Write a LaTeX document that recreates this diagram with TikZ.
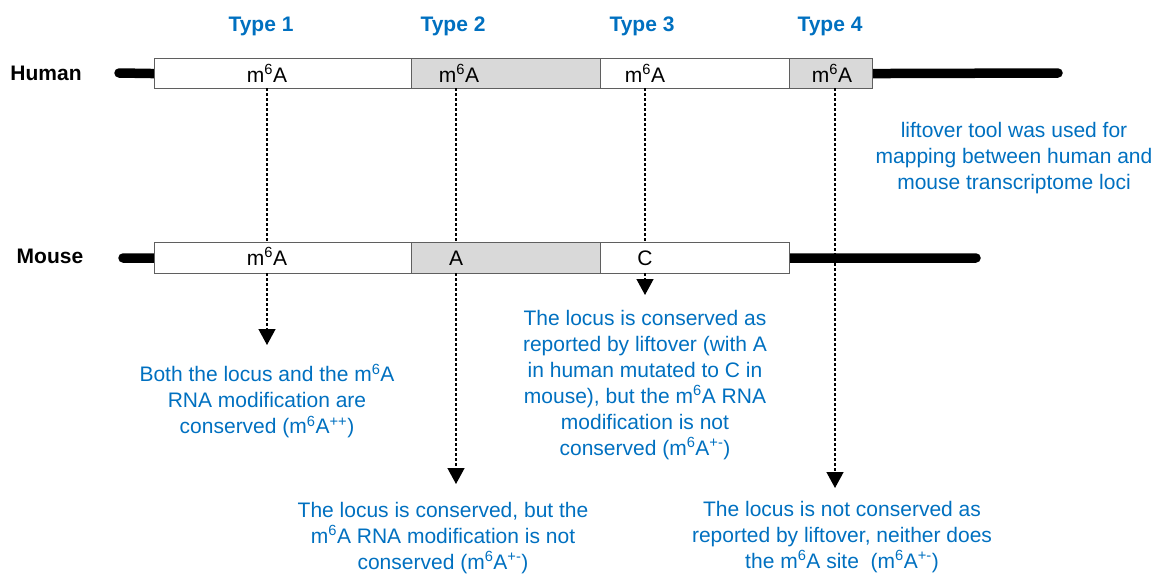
\documentclass[tikz,border=0pt]{standalone}
\usepackage{fontspec}
\setmainfont{Liberation Sans}
\usetikzlibrary{arrows.meta,backgrounds}
\definecolor{myblue}{RGB}{0,112,192}
\definecolor{boxgrey}{RGB}{217,217,217}
\definecolor{edgegrey}{RGB}{95,95,95}
\begin{document}
\begin{tikzpicture}[x=1pt,y=-1pt,
  seg/.style={draw=edgegrey, line width=1.1pt, minimum height=30pt, inner sep=0pt, anchor=north west, fill=white},
  greyseg/.style={seg, fill=boxgrey},
  chrom/.style={line width=9.5pt, line cap=round},
  guide/.style={line width=1.4pt, dash pattern=on 3pt off 2pt},
  guidearrow/.style={guide, -{Triangle[width=17pt,length=16pt]}},
  typelab/.style={font=\fontsize{21}{26}\selectfont\bfseries, text=myblue, anchor=base, inner sep=0pt},
  species/.style={font=\fontsize{21}{26}\selectfont\bfseries, anchor=base, inner sep=0pt},
  site/.style={font=\fontsize{21}{26}\selectfont, anchor=base, inner sep=0pt},
  note/.style={font=\fontsize{21}{26}\selectfont, text=myblue, align=center, inner sep=0pt},
]
\useasboundingbox (0,0) rectangle (1155,573);

% free ends of chromosome lines
\coordinate (hL) at (119,73);
\coordinate (hR) at (1058,73);
\coordinate (mL) at (123,258);
\coordinate (mR) at (976,258);

% human segments
\node[seg, minimum width=257pt] (h1) at (154,58) {};
\node[greyseg, minimum width=189pt] (h2) at (411,58) {};
\node[seg, minimum width=189pt] (h3) at (600,58) {};
\node[greyseg, minimum width=83pt] (h4) at (789,58) {};
% mouse segments
\node[seg, minimum width=257pt, minimum height=31pt] (m1) at (154,242) {};
\node[greyseg, minimum width=189pt, minimum height=31pt] (m2) at (411,242) {};
\node[seg, minimum width=189pt, minimum height=31pt] (m3) at (600,242) {};

% chromosome lines behind the boxes
\begin{pgfonlayer}{background}
\draw[chrom] (hL) -- (h1.west);
\draw[chrom] (h4.east) -- (hR);
\draw[chrom] (mL) -- (m1.west);
\draw[chrom] (m3.east) -- (mR);
\end{pgfonlayer}

% type labels
\node[typelab] (t1) at (261,31) {Type 1};
\node[typelab] (t2) at (453,31) {Type 2};
\node[typelab] (t3) at (642,31) {Type 3};
\node[typelab] (t4) at (830,31) {Type 4};

% species labels
\node[species] (human) at (46,80) {Human};
\node[species] (mouse) at (50,263) {Mouse};

% site labels
\node[site] (hs1) at (267,82) {m\textsuperscript{6}A};
\node[site] (hs2) at (459,82) {m\textsuperscript{6}A};
\node[site] (hs3) at (645,82) {m\textsuperscript{6}A};
\node[site] (hs4) at (832,82) {m\textsuperscript{6}A};
\node[site] (ms1) at (267,265) {m\textsuperscript{6}A};
\node[site] (ms2) at (456,265) {A};
\node[site] (ms3) at (645,265) {C};

% guide coordinates
\coordinate (g1a) at (267,88);  \coordinate (g1b) at (267,242);
\coordinate (g1c) at (267,273); \coordinate (g1d) at (267,345);
\coordinate (g2a) at (456,88);  \coordinate (g2b) at (456,242);
\coordinate (g2c) at (456,273); \coordinate (g2d) at (456,484);
\coordinate (g3a) at (645,88);  \coordinate (g3b) at (645,242);
\coordinate (g3c) at (645,273); \coordinate (g3d) at (645,295);
\coordinate (g4a) at (835,88);  \coordinate (g4d) at (835,488);

\draw[guide] (g1a) -- (g1b);
\draw[guidearrow] (g1c) -- (g1d);
\draw[guide] (g2a) -- (g2b);
\draw[guidearrow] (g2c) -- (g2d);
\draw[guide] (g3a) -- (g3b);
\draw[guidearrow] (g3c) -- (g3d);
\draw[guidearrow] (g4a) -- (g4d);

% notes
\node[note] (n1) at (267,401) {Both the locus and the m\textsuperscript{6}A\\RNA modification are\\conserved (m\textsuperscript{6}A\textsuperscript{++})};
\node[note] (n2) at (443,538) {The locus is conserved, but the\\m\textsuperscript{6}A RNA modification is not\\conserved (m\textsuperscript{6}A\textsuperscript{+-})};
\node[note] (n3) at (645,385) {The locus is conserved as\\reported by liftover (with A\\in human mutated to C in\\mouse), but the m\textsuperscript{6}A RNA\\modification is not\\conserved (m\textsuperscript{6}A\textsuperscript{+-})};
\node[note] (n4) at (842,537) {The locus is not conserved as\\reported by liftover, neither does\\the m\textsuperscript{6}A site~ (m\textsuperscript{6}A\textsuperscript{+-})};
\node[note] (n5) at (1014,158) {liftover tool was used for\\mapping between human and\\mouse transcriptome loci};
\end{tikzpicture}
\end{document}
